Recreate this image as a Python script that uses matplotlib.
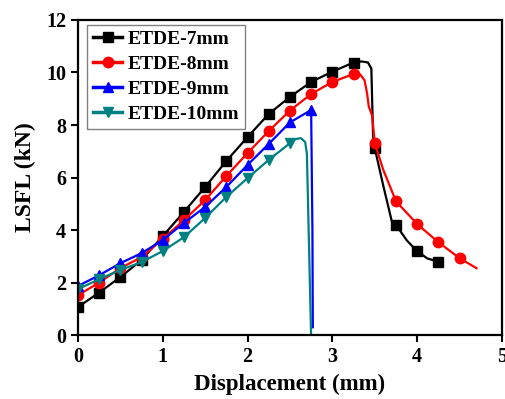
import numpy as np
import matplotlib
matplotlib.use("Agg")
import matplotlib.pyplot as plt

plt.rcParams['font.family'] = 'Liberation Serif'
plt.rcParams['font.weight'] = 'bold'

# displacement (mm) / LSFL (kN)
x_7 = [0, 0.25, 0.5, 0.75, 1.0, 1.25, 1.5, 1.75, 2.0, 2.25, 2.5, 2.75, 3.0, 3.25,
       3.35, 3.42, 3.46, 3.48, 3.5, 3.6, 3.7, 3.75, 3.88, 4.0, 4.12, 4.25]
y_7 = [1.07, 1.62, 2.21, 2.86, 3.77, 4.69, 5.64, 6.63, 7.54, 8.42, 9.07, 9.64, 10.03, 10.38,
       10.42, 10.38, 10.15, 7.6, 7.12, 5.7, 4.35, 4.2, 3.6, 3.2, 2.92, 2.8]

x_8 = [0, 0.25, 0.5, 0.75, 1.0, 1.25, 1.5, 1.75, 2.0, 2.25, 2.5, 2.75, 3.0, 3.25,
       3.33, 3.38, 3.41, 3.43, 3.47, 3.5, 3.6, 3.75, 4.0, 4.25, 4.5, 4.7]
y_8 = [1.52, 2.0, 2.55, 2.97, 3.66, 4.38, 5.14, 6.06, 6.93, 7.77, 8.55, 9.18, 9.64, 9.94,
       9.92, 9.7, 9.2, 8.7, 8.35, 7.31, 6.3, 5.1, 4.23, 3.54, 2.93, 2.55]

x_9 = [0, 0.25, 0.5, 0.75, 1.0, 1.25, 1.5, 1.75, 2.0, 2.25, 2.5, 2.75, 2.765, 2.77]
y_9 = [1.87, 2.28, 2.74, 3.12, 3.62, 4.27, 4.88, 5.64, 6.48, 7.28, 8.1, 8.57, 4.0, 0.3]

x_10 = [0, 0.25, 0.5, 0.75, 1.0, 1.25, 1.5, 1.75, 2.0, 2.25, 2.5, 2.57, 2.63, 2.68, 2.7, 2.75]
y_10 = [1.75, 2.13, 2.48, 2.78, 3.2, 3.73, 4.46, 5.26, 5.98, 6.67, 7.31, 7.47, 7.5, 7.35, 6.9, -0.1]

labels = ['ETDE-7mm', 'ETDE-8mm', 'ETDE-9mm', 'ETDE-10mm']
colors = ['black', '#ff0000', '#0000ff', '#008080']
markers = ['s', 'o', '^', 'v']
msizes = [6.5, 7.5, 7.5, 7.5]

fig = plt.figure(figsize=(5.06, 3.99), dpi=100)
ax = fig.add_axes([0.154, 0.160, 0.838, 0.790])

for xs, ys, lab, c, m, ms in zip([x_7, x_8, x_9, x_10], [y_7, y_8, y_9, y_10],
                                 labels, colors, markers, msizes):
    xs = np.array(xs)
    ys = np.array(ys)
    # markers only every 0.25 mm
    every = [i for i, v in enumerate(xs) if abs(v * 4 - round(v * 4)) < 1e-9 and ys[i] > 0.5]
    ax.plot(xs, ys, color=c, lw=1.6, marker=m, ms=ms, markevery=every, label=lab)

ax.set_xlim(0, 5)
ax.set_ylim(0, 12)
ax.set_xticks([0, 1, 2, 3, 4, 5])
ax.set_yticks([0, 2, 4, 6, 8, 10, 12])
ax.set_xlabel('Displacement (mm)', fontsize=16.5, fontweight='bold', labelpad=5)
ax.set_ylabel('LSFL (kN)', fontsize=17, fontweight='bold', labelpad=7)
ax.tick_params(direction='out', length=5, width=1.5, labelsize=14.5, top=False, right=False)
for s in ax.spines.values():
    s.set_linewidth(1.6)

leg = ax.legend(loc='upper left', bbox_to_anchor=(0.022, 0.985), borderaxespad=0,
                fontsize=14, fancybox=False, edgecolor='gray', framealpha=1,
                handlelength=1.5, handletextpad=0.3, labelspacing=0.38, borderpad=0.3)
leg.get_frame().set_linewidth(1.0)
for h in leg.legend_handles:
    h.set_linewidth(2.5)

fig.savefig('out.png', dpi=100)
